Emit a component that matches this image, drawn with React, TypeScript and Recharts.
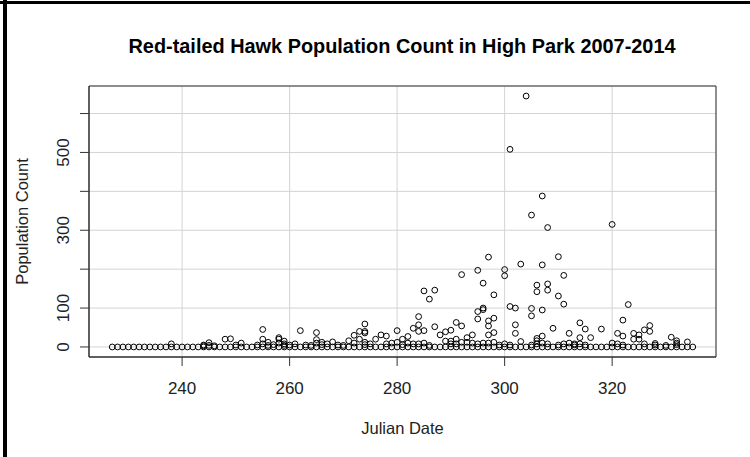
import React from "react";
import {
  ScatterChart,
  Scatter,
  XAxis,
  YAxis,
  CartesianGrid,
  ReferenceArea,
} from "recharts";

// Days on which a count of zero was recorded
const zeroCountDays = [
  227, 228, 229, 230, 231, 232, 233, 234, 235, 236, 237, 238, 239, 240, 241,
  242, 243, 244, 245, 246, 247, 248, 249, 250, 251, 252, 253, 254, 255, 256,
  257, 258, 259, 260, 261, 262, 263, 264, 265, 266, 267, 268, 269, 270, 271,
  272, 273, 274, 275, 276, 277, 278, 279, 280, 281, 282, 283, 284, 285, 286,
  287, 288, 289, 290, 291, 292, 293, 294, 295, 296, 297, 298, 299, 300, 301,
  302, 303, 304, 305, 306, 307, 308, 309, 310, 311, 312, 313, 314, 315, 316,
  317, 318, 319, 320, 321, 322, 323, 324, 325, 326, 327, 328, 329, 330, 331,
  332, 333, 334, 335,
];

// Non-zero observations (Julian day, count)
const countDays = [
  238, 244, 244, 245, 245, 246, 248, 249, 250, 251, 254, 255, 255, 255, 256,
  256, 257, 258, 258, 258, 259, 259, 259, 260, 261, 262, 263, 264, 265, 265,
  265, 266, 266, 267, 268, 269, 270, 271, 272, 272, 273, 273, 274, 274, 274,
  274, 274, 275, 276, 277, 278, 278, 279, 280, 280, 281, 281, 282, 282, 283,
  283, 284, 284, 284, 284, 285, 285, 285, 286, 286, 287, 287, 288, 289, 289,
  290, 290, 290, 291, 291, 291, 292, 292, 292, 293, 293, 294, 294, 295, 295,
  295, 295, 296, 296, 296, 296, 297, 297, 297, 297, 297, 298, 298, 298, 298,
  299, 300, 300, 300, 301, 301, 301, 302, 302, 302, 303, 303, 304, 305, 305,
  305, 305, 306, 306, 306, 306, 306, 307, 307, 307, 307, 307, 308, 308, 308,
  308, 309, 310, 310, 310, 311, 311, 311, 312, 312, 313, 313, 314, 314, 314,
  315, 315, 316, 318, 320, 320, 321, 321, 322, 322, 322, 323, 324, 324, 325,
  325, 326, 326, 327, 327, 328, 328, 330, 331, 332, 332, 332, 334,
];
const countValues = [
  8, 3, 5, 11, 4, 3, 20, 21, 5, 10, 5, 45, 20, 8, 12,
  4, 6, 24, 20, 10, 15, 8, 4, 5, 8, 42, 5, 4, 37, 19,
  10, 12, 6, 8, 13, 5, 4, 16, 30, 10, 40, 20, 59, 40, 36,
  12, 6, 8, 20, 31, 28, 8, 10, 42, 12, 20, 6, 27, 10, 48,
  8, 78, 57, 40, 8, 144, 42, 10, 123, 4, 146, 52, 31, 39, 15,
  43, 15, 8, 63, 20, 8, 186, 54, 12, 24, 12, 31, 10, 197, 91,
  72, 8, 164, 100, 96, 10, 231, 67, 54, 31, 10, 134, 74, 37, 12,
  5, 199, 183, 8, 508, 104, 5, 100, 57, 35, 213, 14, 645, 339, 99,
  80, 5, 159, 142, 22, 16, 8, 388, 211, 95, 28, 10, 307, 162, 146,
  8, 48, 232, 131, 5, 184, 110, 8, 35, 10, 8, 5, 62, 24, 8,
  46, 5, 24, 46, 315, 10, 35, 8, 69, 28, 5, 109, 35, 20, 31,
  20, 44, 8, 55, 40, 9, 5, 4, 25, 16, 10, 6, 13,
];

const xTicks = [240, 260, 280, 300, 320];
const yTicks = [0, 100, 200, 300, 400, 500, 600];
const yTickLabels = [0, 100, 300, 500];

const X_DOMAIN: [number, number] = [222.68, 339.32];
const Y_DOMAIN: [number, number] = [-25.8, 670.8];

const data = [
  ...zeroCountDays.map((d) => ({ day: d, count: 0 })),
  ...countDays.map((d, i) => ({ day: d, count: countValues[i] })),
];

const FONT = "'Liberation Sans', Arial, sans-serif";

const OpenCircle = (props: any) => {
  const { cx, cy } = props;
  if (cx == null || cy == null) return null;
  return (
    <circle cx={cx} cy={cy} r={2.9} fill="none" stroke="#000" strokeWidth={1} />
  );
};

const XTick = (props: any) => {
  const { x, y, payload } = props;
  return (
    <text
      x={x}
      y={y + 28}
      textAnchor="middle"
      fontFamily={FONT}
      fontSize={17}
      fill="#222"
    >
      {payload.value}
    </text>
  );
};

const YTick = (props: any) => {
  const { x, y, payload } = props;
  if (!yTickLabels.includes(payload.value)) return null;
  return (
    <text
      transform={`translate(${x - 11},${y}) rotate(-90)`}
      textAnchor="middle"
      fontFamily={FONT}
      fontSize={17}
      fill="#222"
    >
      {payload.value}
    </text>
  );
};

export default function App() {
  return (
    <div
      style={{
        position: "absolute",
        left: 0,
        top: 0,
        width: 750,
        height: 457,
        background: "#fff",
      }}
    >
      <ScatterChart
        width={750}
        height={457}
        margin={{ top: 86, right: 34, bottom: 0, left: 0 }}
      >
        <CartesianGrid stroke="#d3d3d3" strokeWidth={1} />
        <XAxis
          type="number"
          dataKey="day"
          domain={X_DOMAIN}
          allowDataOverflow
          ticks={xTicks}
          height={100}
          tickSize={9}
          tickMargin={0}
          tick={<XTick />}
          axisLine={{ stroke: "#333" }}
          tickLine={{ stroke: "#333" }}
        />
        <YAxis
          type="number"
          dataKey="count"
          domain={Y_DOMAIN}
          allowDataOverflow
          ticks={yTicks}
          width={89}
          tickSize={9}
          tickMargin={0}
          tick={<YTick />}
          axisLine={{ stroke: "#333" }}
          tickLine={{ stroke: "#333" }}
        />
        <Scatter
          data={data}
          shape={<OpenCircle />}
          isAnimationActive={false}
        />
        <ReferenceArea
          x1={X_DOMAIN[0]}
          x2={X_DOMAIN[1]}
          y1={Y_DOMAIN[0]}
          y2={Y_DOMAIN[1]}
          fill="none"
          fillOpacity={0}
          stroke="#333"
          strokeWidth={1}
          ifOverflow="visible"
        />
      </ScatterChart>
      <svg
        width={750}
        height={457}
        style={{ position: "absolute", left: 0, top: 0, pointerEvents: "none" }}
      >
        <rect x={0} y={1} width={750} height={3} fill="#000" />
        <rect x={3} y={0} width={4} height={457} fill="#000" />
        <text
          x={402}
          y={53}
          textAnchor="middle"
          fontFamily={FONT}
          fontWeight="bold"
          fontSize={21}
          textLength={547}
          lengthAdjust="spacingAndGlyphs"
          fill="#000"
        >
          Red-tailed Hawk Population Count in High Park 2007-2014
        </text>
        <text
          x={402.5}
          y={434}
          textAnchor="middle"
          fontFamily={FONT}
          fontSize={16.5}
          fill="#222"
        >
          Julian Date
        </text>
        <text
          transform="translate(28,221.5) rotate(-90)"
          textAnchor="middle"
          fontFamily={FONT}
          fontSize={16.5}
          fill="#222"
        >
          Population Count
        </text>
      </svg>
    </div>
  );
}
